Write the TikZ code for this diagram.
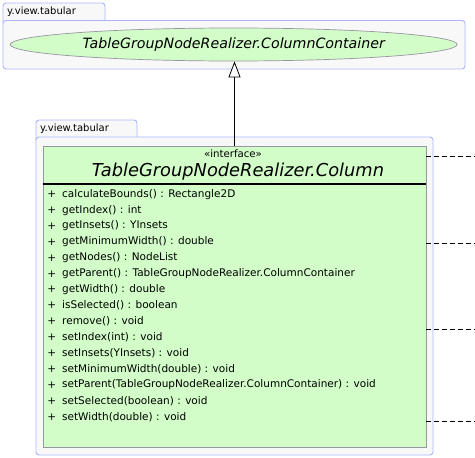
\documentclass[tikz,border=0pt]{standalone}
\usepackage{fontspec}
\setmainfont{DejaVu Sans}
\usetikzlibrary{arrows.meta,shapes.geometric}
\definecolor{pkgfill}{RGB}{248,248,248}
\definecolor{pkgline}{RGB}{170,182,250}
\definecolor{clsfill}{RGB}{210,252,200}
\definecolor{clsline}{RGB}{150,150,160}
\tikzset{
  pkgbox/.style={draw=pkgline, fill=pkgfill, line width=0.9pt, rounded corners=3pt},
  pkglabel/.style={anchor=west, inner sep=0pt, font=\fontsize{10}{12}\selectfont},
  member/.style={anchor=west, inner sep=0pt, font=\fontsize{10.5}{12}\selectfont},
  plus/.style={anchor=center, inner sep=0pt, font=\fontsize{10.5}{12}\selectfont},
  dep/.style={dashed, dash pattern=on 5pt off 3pt, line width=0.7pt},
}
\begin{document}
\begin{tikzpicture}[x=1pt,y=-1pt]
\useasboundingbox (0,0) rectangle (475,458);
% top package
\draw[pkgbox] (3,23) -- (3,3) -- (105,3) -- (105,23);
\node[pkglabel] (pk1) at (7,12) {y.view.tabular};
\draw[pkgbox] (3,20.5) rectangle (465,69);
\node[draw=clsline, fill=clsfill, ellipse, minimum width=447pt, minimum height=33pt, inner sep=0pt, line width=0.7pt,
      font=\fontsize{14.2}{16}\selectfont\itshape] (cc) at (233.7,44.5) {TableGroupNodeRealizer.ColumnContainer};
% bottom package
\draw[pkgbox] (36,140) -- (36,120) -- (137,120) -- (137,140);
\node[pkglabel] (pk2) at (40,129) {y.view.tabular};
\draw[pkgbox] (36,137) rectangle (433,455);
\node[draw=clsline, fill=clsfill, rectangle, minimum width=383pt, minimum height=301pt, inner sep=0pt, line width=0.9pt] (col) at (234.5,296.5) {};
\node[inner sep=0pt, font=\fontsize{10.2}{12}\selectfont] (st) at (233,154) {«interface»};
\node[inner sep=0pt, font=\fontsize{17.8}{20}\selectfont\itshape] (ttl) at (238,172) {TableGroupNodeRealizer.Column};
\draw[line width=1.6pt] (col.west |- 0,184) -- (col.east |- 0,184);
\foreach \t [count=\i from 0] in {%
calculateBounds() : Rectangle2D,
getIndex() : int,
getInsets() : YInsets,
getMinimumWidth() : double,
getNodes() : NodeList,
getParent() : TableGroupNodeRealizer.ColumnContainer,
getWidth() : double,
isSelected() : boolean,
remove() : void,
setIndex(int) : void,
setInsets(YInsets) : void,
setMinimumWidth(double) : void,
setParent(TableGroupNodeRealizer.ColumnContainer) : void,
setSelected(boolean) : void,
setWidth(double) : void}{
  \node[plus] (p\i) at (51.7,194.3+15.89*\i) {+};
  \node[member] (m\i) at (62,194.3+15.89*\i) {\t};
}
% generalization
\draw[line width=0.8pt, -{Triangle[open, length=16pt, width=12pt, fill=white]}] (col.north) -- (col.north |- cc.south);
% dependency stubs
\coordinate (e1) at (475,156.7);
\coordinate (e2) at (475,243.3);
\coordinate (e3) at (475,329.3);
\coordinate (e4) at (475,421.7);
\foreach \k in {1,2,3,4} \draw[dep] (col.east |- e\k) -- (e\k);
\end{tikzpicture}
\end{document}
